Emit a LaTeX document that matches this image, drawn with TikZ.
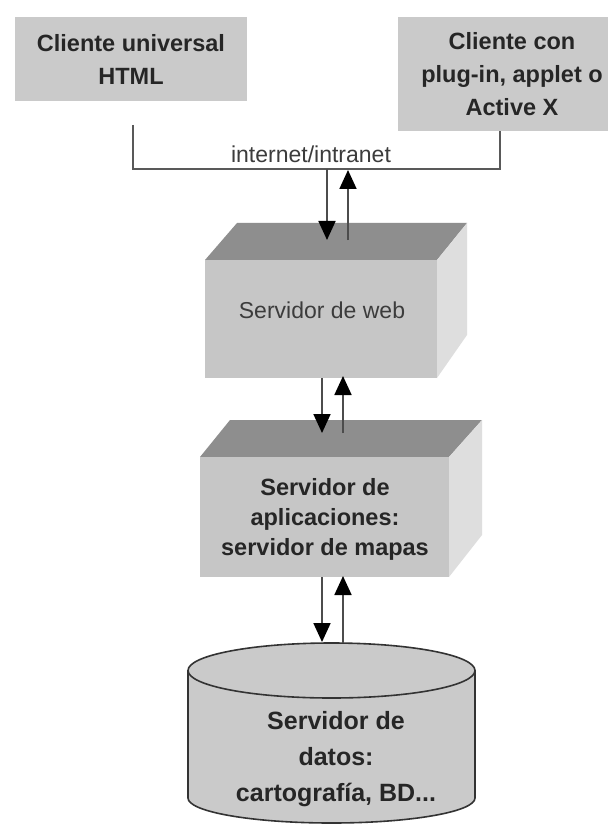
\documentclass[tikz,border=0pt]{standalone}
\usepackage{fontspec}
\setmainfont{Liberation Sans}
\usetikzlibrary{arrows.meta}
\definecolor{boxgray}{HTML}{CACACA}
\definecolor{topgray}{HTML}{8E8E8E}
\definecolor{frontgray}{HTML}{C6C6C6}
\definecolor{sidegray}{HTML}{DEDEDE}
\definecolor{txt}{HTML}{262626}
\tikzset{
  clientbox/.style={rectangle, fill=boxgray, inner sep=0pt, align=center, text=txt,
    font=\fontsize{23.5}{33}\selectfont\bfseries},
  boldtxt/.style={align=center, text=txt, inner sep=0pt},
  regtxt/.style={align=center, text=txt!90, inner sep=0pt, font=\fontsize{23}{30}\selectfont},
  topface/.style={fill=topgray},
  frontface/.style={fill=frontgray},
  sideface/.style={fill=sidegray},
  netline/.style={draw=black!65, line width=2pt},
  flow/.style={draw=black!70, line width=1.8pt, -{Triangle[width=17pt,length=19pt,color=black,fill=black]}},
  cyl/.style={fill=boxgray, draw=black!80, line width=1.6pt}
}
\begin{document}
\begin{tikzpicture}[x=1pt,y=1pt]
\useasboundingbox (0,0) rectangle (607,-826);
\fill[white] (0,0) rectangle (607,-826);

% clients
\node[clientbox, minimum width=232pt, minimum height=84pt] (c1) at (131,-59)
  {Cliente universal\\HTML};
\node[clientbox, minimum width=228pt, minimum height=114pt] (c2) at (512,-74)
  {Cliente con\\plug-in, applet o\\Active X};

% network line
\coordinate (l1) at (133,-125);
\coordinate (l2) at (133,-169);
\coordinate (l3) at (500,-169);
\draw[netline] (l1) -- (l2) -- (l3) -- (c2.south -| l3);
\node[regtxt] (net) at (311,-154) {internet/intranet};

% web server box
\fill[topface] (205,-260) -- (437,-260) -- (467,-223) -- (237,-223) -- cycle;
\fill[sideface] (437,-260) -- (467,-223) -- (467,-335) -- (437,-378) -- cycle;
\node[frontface, rectangle, inner sep=0pt, minimum width=232pt, minimum height=118pt] (web) at (321,-319) {};
\node[regtxt] (webt) at (322,-310) {Servidor de web};

% application server box
\fill[topface] (200,-457) -- (449,-457) -- (482,-420) -- (230,-420) -- cycle;
\fill[sideface] (449,-457) -- (482,-420) -- (482,-535) -- (449,-577) -- cycle;
\node[frontface, rectangle, inner sep=0pt, minimum width=249pt, minimum height=120pt] (app) at (324.5,-517) {};
\node[boldtxt, font=\fontsize{23.5}{30}\selectfont\bfseries] (appt) at (325,-519)
  {Servidor de\\aplicaciones:\\servidor de mapas};

% data server cylinder
\draw[cyl] (188,-670.5) -- (188,-798) arc[start angle=180, end angle=360, x radius=143.5, y radius=25] -- (475,-670.5);
\draw[cyl] (331.5,-670.5) ellipse[x radius=143.5, y radius=27.5];
\node[boldtxt, font=\fontsize{25}{36}\selectfont\bfseries] (db) at (336,-759)
  {Servidor de\\datos:\\cartografía, BD...};

% arrows net <-> web
\coordinate (a1s) at (327,-169);
\coordinate (a1e) at (327,-240);
\coordinate (b1s) at (348,-240);
\coordinate (b1e) at (348,-170);
\draw[flow] (a1s) -- (a1e);
\draw[flow] (b1s) -- (b1e);

% arrows web <-> app
\coordinate (a2s) at (322,-378);
\coordinate (a2e) at (322,-433);
\coordinate (b2s) at (343,-433);
\coordinate (b2e) at (343,-376);
\draw[flow] (a2s) -- (a2e);
\draw[flow] (b2s) -- (b2e);

% arrows app <-> db
\coordinate (a3s) at (322,-577);
\coordinate (a3e) at (322,-642);
\coordinate (b3s) at (343,-643);
\coordinate (b3e) at (343,-576);
\draw[flow] (a3s) -- (a3e);
\draw[flow] (b3s) -- (b3e);
\end{tikzpicture}
\end{document}
